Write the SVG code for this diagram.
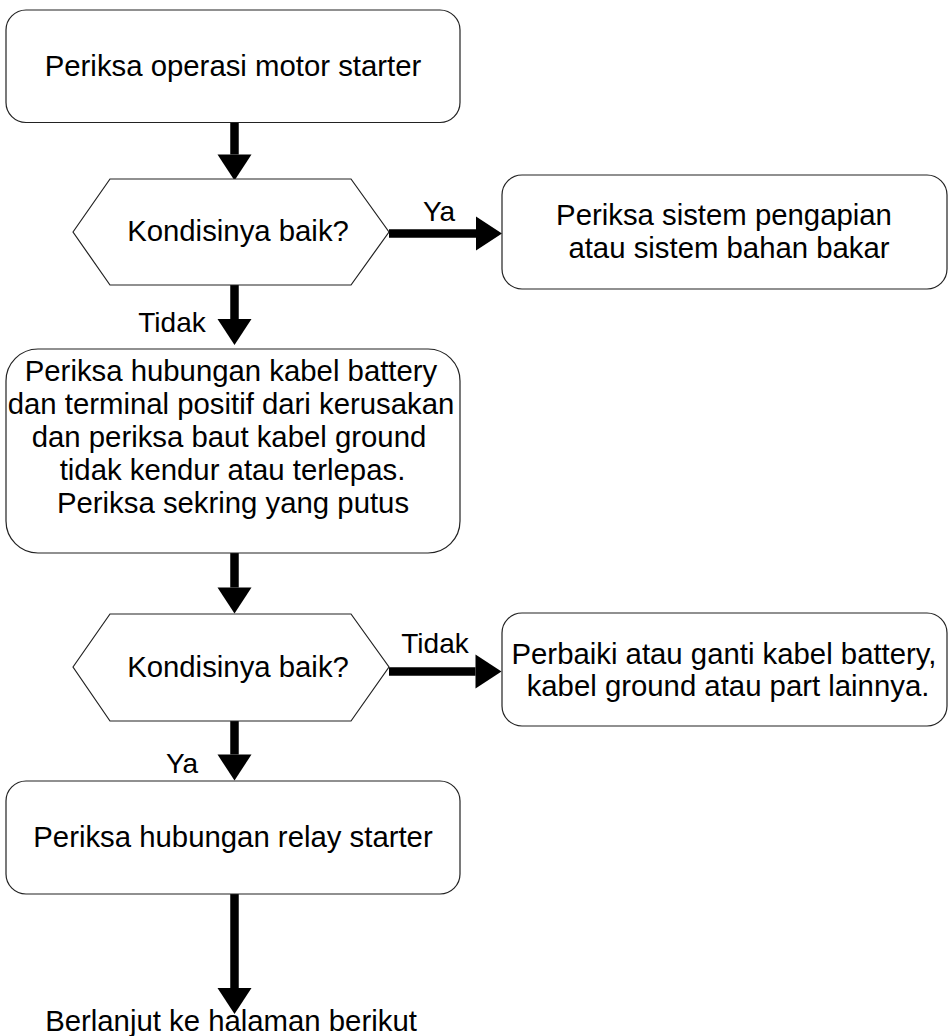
<svg xmlns="http://www.w3.org/2000/svg" width="948" height="1036" viewBox="0 0 948 1036">
<style>
.box{fill:#fff;stroke:#222;stroke-width:1.2}
.t{font-family:"Liberation Sans",Arial,sans-serif;font-size:29.33px;fill:#000;text-anchor:middle}
.lbl{font-family:"Liberation Sans",Arial,sans-serif;font-size:28px;fill:#000;text-anchor:middle}
.c{fill:none;stroke:#000;stroke-width:8.5}
</style>
<defs>
<marker id="ah" markerUnits="userSpaceOnUse" markerWidth="27" markerHeight="34" refX="0" refY="17" orient="auto" overflow="visible">
<path d="M0,0 L26,17 L0,34 Z" fill="#000"/>
</marker>
</defs>
<rect width="948" height="1036" fill="#fff"/>
<g id="connectors">
<path class="c" d="M234.5,122 V154.5" marker-end="url(#ah)"/>
<path class="c" d="M234.5,285 V319" marker-end="url(#ah)"/>
<path class="c" d="M234.5,553 V587.5" marker-end="url(#ah)"/>
<path class="c" d="M234.5,721 V754.5" marker-end="url(#ah)"/>
<path class="c" d="M234.5,894 V988" marker-end="url(#ah)"/>
<path class="c" d="M389,233.5 H476" marker-end="url(#ah)"/>
<path class="c" d="M389,671.5 H475.5" marker-end="url(#ah)"/>
<text class="lbl" x="439" y="221">Ya</text>
<text class="lbl" x="172" y="332">Tidak</text>
<text class="lbl" x="435" y="653">Tidak</text>
<text class="lbl" x="182" y="773">Ya</text>
</g>
<g id="n1">
<rect class="box" x="6" y="10" width="454" height="112.5" rx="20"/>
<text class="t" x="233" y="76">Periksa operasi motor starter</text>
</g>
<g id="n2">
<polygon class="box" points="73,232 110,179 351,179 389,232 351,285 110,285"/>
<text class="t" x="238" y="241">Kondisinya baik?</text>
</g>
<g id="n3">
<rect class="box" x="502" y="175" width="445" height="114" rx="20"/>
<text class="t" x="724" y="225">Periksa sistem pengapian</text>
<text class="t" x="729" y="258">atau sistem bahan bakar</text>
</g>
<g id="n4">
<rect class="box" x="6" y="349" width="454" height="204" rx="32"/>
<text class="t" x="231" y="381">Periksa hubungan kabel battery</text>
<text class="t" x="231" y="414">dan terminal positif dari kerusakan</text>
<text class="t" x="229" y="447">dan periksa baut kabel ground</text>
<text class="t" x="232.5" y="480">tidak kendur atau terlepas.</text>
<text class="t" x="233" y="513">Periksa sekring yang putus</text>
</g>
<g id="n5">
<polygon class="box" points="73,667 110,614 351,614 389,667 351,721 110,721"/>
<text class="t" x="238" y="677">Kondisinya baik?</text>
</g>
<g id="n6">
<rect class="box" x="502" y="613" width="445" height="113" rx="20"/>
<text class="t" x="724" y="664">Perbaiki atau ganti kabel battery,</text>
<text class="t" x="728" y="696">kabel ground atau part lainnya.</text>
</g>
<g id="n7">
<rect class="box" x="6" y="781" width="454" height="113" rx="20"/>
<text class="t" x="233" y="847">Periksa hubungan relay starter</text>
</g>
<g id="n8">
<text class="t" x="231" y="1031">Berlanjut ke halaman berikut</text>
</g>
</svg>
